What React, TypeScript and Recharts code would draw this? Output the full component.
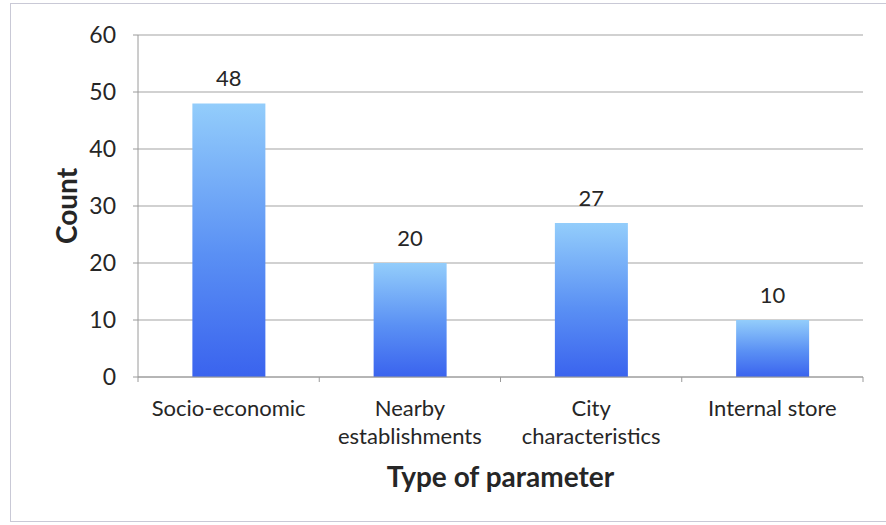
import { BarChart, Bar, XAxis, YAxis, CartesianGrid, LabelList } from 'recharts';

const categories = ['Socio-economic', 'Nearby establishments', 'City characteristics', 'Internal store'];
const tickLines = [['Socio-economic'], ['Nearby', 'establishments'], ['City', 'characteristics'], ['Internal store']];
const counts = [48, 20, 27, 10];
const yTicks = [0, 10, 20, 30, 40, 50, 60];

const data = categories.map((name, i) => ({ name, count: counts[i] }));

const FONT = 'Lato, "Open Sans", sans-serif';
const TEXT = '#262626';

const CategoryTick = (props: any) => {
  const { x, y, payload, index } = props;
  const lines: string[] = tickLines[index] ?? [String(payload.value)];
  const half = payload.offset ?? 0;
  return (
    <g>
      <line x1={x - half} y1={y - 8} x2={x - half} y2={y - 3} stroke="#9a9a9a" />
      {index === categories.length - 1 && (
        <line x1={x + half} y1={y - 8} x2={x + half} y2={y - 3} stroke="#9a9a9a" />
      )}
      {lines.map((line, i) => (
        <text key={i} x={x} y={y + 31 + i * 28} textAnchor="middle" fill={TEXT} fontSize={22} fontFamily={FONT}>
          {line}
        </text>
      ))}
    </g>
  );
};

// axis titles, placed relative to the axis box recharts hands in
const XTitle = ({ viewBox }: any) => (
  <text
    x={viewBox.x + viewBox.width / 2}
    y={viewBox.y + 110}
    textAnchor="middle"
    fill={TEXT}
    fontSize={28}
    fontWeight={700}
    fontFamily={FONT}
  >
    Type of parameter
  </text>
);

const YTitle = ({ viewBox }: any) => {
  const cx = viewBox.x + 66;
  const cy = viewBox.y + viewBox.height / 2;
  return (
    <text
      x={cx}
      y={cy}
      transform={`rotate(-90 ${cx} ${cy})`}
      textAnchor="middle"
      dominantBaseline="central"
      fill={TEXT}
      fontSize={28}
      fontWeight={700}
      fontFamily={FONT}
    >
      Count
    </text>
  );
};

export default function App() {
  return (
    <div style={{ position: 'absolute', left: 0, top: 0, width: 886, height: 525, background: '#fff', overflow: 'hidden' }}>
      <div style={{ position: 'absolute', left: 10, top: 3, width: 900, height: 517, border: '1px solid #c9c9d6' }} />
      <BarChart
        width={886}
        height={525}
        data={data}
        margin={{ top: 35, right: 23, left: 0, bottom: 18 }}
        barCategoryGap="30%"
        style={{ position: 'absolute', left: 0, top: 0 }}
      >
        <defs>
          <linearGradient id="barFill" x1="0" y1="0" x2="0" y2="1">
            <stop offset="0%" stopColor="#93cdfb" />
            <stop offset="55%" stopColor="#5a90f4" />
            <stop offset="100%" stopColor="#3a63ee" />
          </linearGradient>
        </defs>
        <CartesianGrid vertical={false} stroke="#a3a3a3" />
        <XAxis
          dataKey="name"
          height={130}
          stroke="#9a9a9a"
          tickLine={false}
          interval={0}
          tick={<CategoryTick />}
          label={{ content: <XTitle /> }}
        />
        <YAxis
          width={138}
          domain={[0, 60]}
          ticks={yTicks}
          stroke="#9a9a9a"
          tickSize={5}
          tickMargin={17}
          tick={{ fill: TEXT, fontSize: 23, fontFamily: FONT }}
          label={{ content: <YTitle /> }}
        />
        <Bar dataKey="count" fill="url(#barFill)" isAnimationActive={false}>
          <LabelList dataKey="count" position="top" offset={17} fill={TEXT} fontSize={22} fontFamily={FONT} />
        </Bar>
      </BarChart>
    </div>
  );
}
